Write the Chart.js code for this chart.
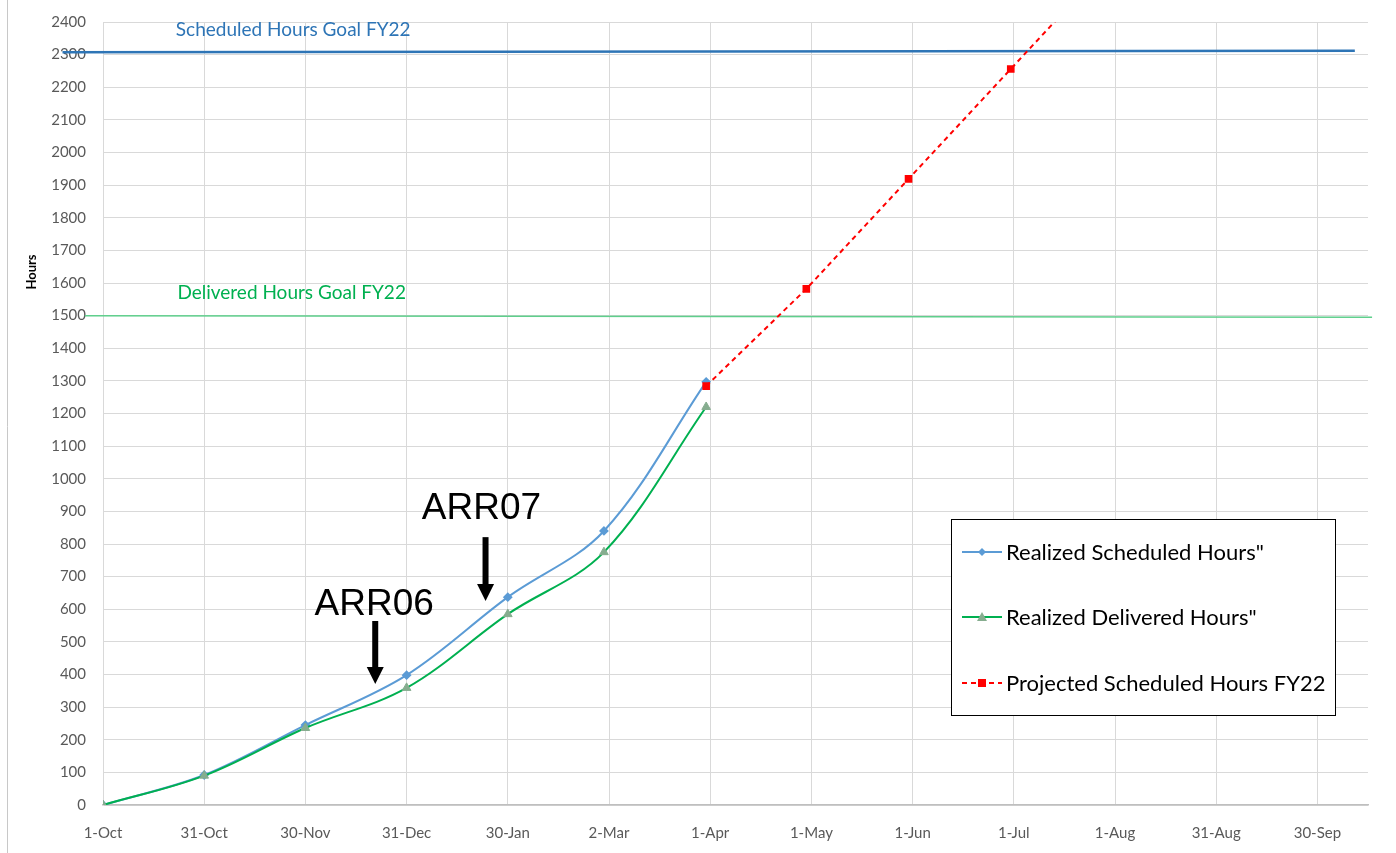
<!DOCTYPE html>
<html>
<head>
<meta charset="utf-8">
<script src="https://cdn.jsdelivr.net/npm/chart.js@4.4.1/dist/chart.umd.min.js"></script>
<style>
  html, body { margin: 0; padding: 0; background: #fff; }
  #wrap { position: relative; width: 1396px; height: 853px; }
</style>
</head>
<body>
<div id="wrap"><canvas id="hours" width="1396" height="853"></canvas></div>
<script>
const tickLabels = ['1-Oct', '31-Oct', '30-Nov', '31-Dec', '30-Jan', '2-Mar', '1-Apr',
  '1-May', '1-Jun', '1-Jul', '1-Aug', '31-Aug', '30-Sep'];

// x positions are in "tick units" (0 = 1-Oct, 1 = 31-Oct, ...)
const realizedX = [0, 1, 2, 3, 4, 4.95, 5.96];
const realizedScheduled = [0, 92, 245, 398, 637, 840, 1297];
const realizedDelivered = [0, 90, 236, 359, 585, 775, 1220];

const projectedX = [5.96, 6.95, 7.96, 8.97, 9.97];
const projectedScheduled = [1284, 1582, 1919, 2256, 2590];

const scheduledGoalX = [-0.4, 12.37];
const scheduledGoal = [2307, 2312];
const deliveredGoalX = [-0.18, 12.54];
const deliveredGoal = [1500, 1495];

const seriesNames = ['Realized Scheduled Hours"', 'Realized Delivered Hours"', 'Projected Scheduled Hours FY22'];

const FONT = 'Lato, "Open Sans", sans-serif';

function pts(xs, ys) {
  return xs.map((v, i) => ({ x: v, y: ys[i] }));
}

// annotation anchors, in axis units
const notes = [
  { text: 'ARR06', x: 2.68, y: 582, arrowX: 2.69, arrowTop: 564, arrowTip: 371 },
  { text: 'ARR07', x: 3.74, y: 877, arrowX: 3.78, arrowTop: 821, arrowTip: 625 }
];

function drawMarker(ctx, kind, cx, cy, color) {
  ctx.save();
  ctx.fillStyle = color;
  ctx.beginPath();
  if (kind === 'diamond') {
    ctx.moveTo(cx, cy - 4); ctx.lineTo(cx + 4, cy); ctx.lineTo(cx, cy + 4); ctx.lineTo(cx - 4, cy);
  } else if (kind === 'triangle') {
    ctx.moveTo(cx, cy - 5); ctx.lineTo(cx + 5, cy + 4); ctx.lineTo(cx - 5, cy + 4);
  } else {
    ctx.rect(cx - 4, cy - 4, 8, 8);
  }
  ctx.closePath();
  ctx.fill();
  ctx.restore();
}

const overlay = {
  id: 'overlay',
  afterDraw(chart) {
    const { ctx } = chart;
    const x = chart.scales.x, y = chart.scales.y;
    ctx.save();

    // outer frame line on the left
    ctx.strokeStyle = '#c8c8c8';
    ctx.lineWidth = 1;
    ctx.beginPath();
    ctx.moveTo(7.5, 0);
    ctx.lineTo(7.5, 853);
    ctx.stroke();

    // y axis title
    ctx.save();
    ctx.translate(36, 272);
    ctx.rotate(-Math.PI / 2);
    ctx.font = 'bold 13px ' + FONT;
    ctx.fillStyle = '#000';
    ctx.textAlign = 'center';
    ctx.textBaseline = 'alphabetic';
    ctx.fillText('Hours', 0, 0);
    ctx.restore();

    // goal labels
    ctx.font = '19px ' + FONT;
    ctx.textAlign = 'left';
    ctx.textBaseline = 'alphabetic';
    ctx.fillStyle = '#2e75b6';
    ctx.fillText('Scheduled Hours Goal FY22', x.getPixelForValue(0.72), y.getPixelForValue(2357));
    ctx.fillStyle = '#00b050';
    ctx.fillText('Delivered Hours Goal FY22', x.getPixelForValue(0.735), y.getPixelForValue(1551));

    // ARR annotations with arrows
    notes.forEach(n => {
      ctx.font = '37px "Liberation Sans", Arial, sans-serif';
      ctx.fillStyle = '#000';
      ctx.textAlign = 'center';
      ctx.fillText(n.text, x.getPixelForValue(n.x), y.getPixelForValue(n.y));
      const ax = x.getPixelForValue(n.arrowX);
      const top = y.getPixelForValue(n.arrowTop);
      const tip = y.getPixelForValue(n.arrowTip);
      ctx.fillRect(ax - 3, top, 6, tip - top - 16);
      ctx.beginPath();
      ctx.moveTo(ax - 8.5, tip - 17);
      ctx.lineTo(ax + 8.5, tip - 17);
      ctx.lineTo(ax, tip);
      ctx.closePath();
      ctx.fill();
    });

    // legend box
    const bx = 951, by = 519, bw = 384, bh = 196;
    ctx.fillStyle = '#fff';
    ctx.fillRect(bx, by, bw, bh);
    ctx.strokeStyle = '#000';
    ctx.lineWidth = 1;
    ctx.strokeRect(bx + 0.5, by + 0.5, bw, bh);

    const rows = [
      { y: 552, color: '#5b9bd5', dash: [], marker: 'diamond', mcolor: '#5b9bd5' },
      { y: 617, color: '#00b050', dash: [], marker: 'triangle', mcolor: '#86ad8f' },
      { y: 683, color: '#ff0000', dash: [5, 4], marker: 'square', mcolor: '#ff0000' }
    ];
    rows.forEach((r, i) => {
      ctx.strokeStyle = r.color;
      ctx.lineWidth = 2;
      ctx.setLineDash(r.dash);
      ctx.beginPath();
      ctx.moveTo(962, r.y);
      ctx.lineTo(1002, r.y);
      ctx.stroke();
      ctx.setLineDash([]);
      drawMarker(ctx, r.marker, 982, r.y, r.mcolor);
      ctx.font = '22px ' + FONT;
      ctx.fillStyle = '#000';
      ctx.textAlign = 'left';
      ctx.textBaseline = 'middle';
      ctx.fillText(seriesNames[i], 1006, r.y + 1);
    });

    ctx.restore();
  }
};

new Chart(document.getElementById('hours'), {
  type: 'line',
  data: {
    datasets: [
      {
        label: 'Scheduled Hours Goal FY22',
        data: pts(scheduledGoalX, scheduledGoal),
        borderColor: '#2e75b6',
        borderWidth: 2.5,
        pointRadius: 0,
        clip: false,
        order: 5
      },
      {
        label: 'Delivered Hours Goal FY22',
        data: pts(deliveredGoalX, deliveredGoal),
        borderColor: '#5fcf8c',
        borderWidth: 1.5,
        pointRadius: 0,
        clip: false,
        order: 4
      },
      {
        label: seriesNames[0],
        data: pts(realizedX, realizedScheduled),
        borderColor: '#5b9bd5',
        borderWidth: 2,
        tension: 0.35,
        pointStyle: 'rectRot',
        pointRadius: 3.5,
        pointBackgroundColor: '#5b9bd5',
        pointBorderColor: '#5b9bd5',
        order: 3
      },
      {
        label: seriesNames[1],
        data: pts(realizedX, realizedDelivered),
        borderColor: '#00b050',
        borderWidth: 2,
        tension: 0.35,
        pointStyle: 'triangle',
        pointRadius: 5,
        pointBackgroundColor: '#86ad8f',
        pointBorderColor: '#86ad8f',
        pointBorderWidth: 1,
        order: 2
      },
      {
        label: seriesNames[2],
        data: pts(projectedX, projectedScheduled),
        borderColor: '#ff0000',
        borderWidth: 2,
        borderDash: [5, 4],
        tension: 0,
        pointStyle: 'rect',
        pointRadius: 4,
        pointBackgroundColor: '#ff0000',
        pointBorderColor: '#ff0000',
        clip: 0,
        order: 1
      }
    ]
  },
  options: {
    responsive: false,
    animation: false,
    layout: { padding: { left: 0, right: 28, top: 22, bottom: 0 } },
    plugins: {
      legend: { display: false },
      tooltip: { enabled: false }
    },
    scales: {
      x: {
        type: 'linear',
        min: 0,
        max: 12.5,
        afterBuildTicks: scale => {
          scale.ticks = tickLabels.map((_, i) => ({ value: i }));
        },
        afterFit: scale => {
          scale.height = 48;
          scale.paddingLeft = 0;
          scale.paddingRight = 0;
        },
        ticks: {
          stepSize: 1,
          padding: 19,
          maxRotation: 0,
          autoSkip: false,
          color: '#595959',
          font: { family: FONT, size: 15 },
          callback: v => tickLabels[v] || ''
        },
        grid: { color: '#d9d9d9', drawTicks: false, lineWidth: 1 },
        border: { color: '#bfbfbf', width: 1.5 }
      },
      y: {
        min: 0,
        max: 2400,
        afterFit: scale => {
          scale.width = 103;
          scale.paddingTop = 0;
          scale.paddingBottom = 0;
        },
        ticks: {
          stepSize: 100,
          padding: 17,
          color: '#595959',
          font: { family: FONT, size: 15 },
          callback: v => String(v)
        },
        grid: { color: '#d9d9d9', drawTicks: false, lineWidth: 1 },
        border: { color: '#d9d9d9' }
      }
    }
  },
  plugins: [overlay]
});
</script>
</body>
</html>
